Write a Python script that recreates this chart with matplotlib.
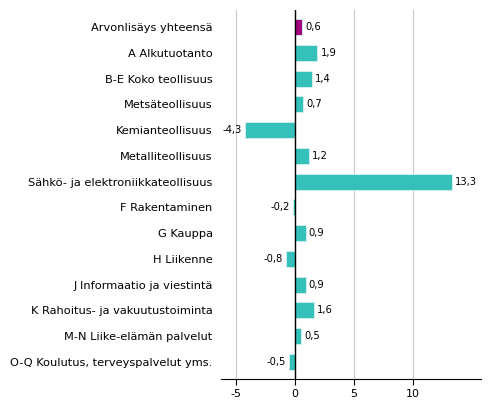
import matplotlib.pyplot as plt

categories = ["Arvonlisäys yhteensä", "A Alkutuotanto", "B-E Koko teollisuus",
              "Metsäteollisuus", "Kemianteollisuus", "Metalliteollisuus",
              "Sähkö- ja elektroniikkateollisuus", "F Rakentaminen", "G Kauppa",
              "H Liikenne", "J Informaatio ja viestintä",
              "K Rahoitus- ja vakuutustoiminta", "M-N Liike-elämän palvelut",
              "O-Q Koulutus, terveyspalvelut yms."]
values = [0.6, 1.9, 1.4, 0.7, -4.3, 1.2, 13.3, -0.2, 0.9, -0.8, 0.9, 1.6, 0.5, -0.5]
xticks = [-5, 0, 5, 10]

plt.rcParams['font.family'] = ['DejaVu Sans']
fig = plt.figure(figsize=(4.91, 4.16), dpi=100)
ax = fig.add_axes([221/491, 1-379/416, 260/491, 369/416])

ypos = list(range(len(categories)))
colors = ['#a3007f'] + ['#35c1b9'] * (len(categories) - 1)
ax.barh(ypos, values, height=0.62, color=colors, edgecolor='#d8f2f0', linewidth=0.6, zorder=3)

for y, v in zip(ypos, values):
    txt = f"{v:.1f}".replace('.', ',')
    if v >= 0:
        ax.text(v + 0.25, y, txt, va='center', ha='left', fontsize=7.2, zorder=4)
    else:
        ax.text(v - 0.25, y, txt, va='center', ha='right', fontsize=7.2, zorder=4)

ax.axvline(0, color='black', linewidth=1, zorder=4)
ax.set_xlim(-6.3, 15.8)
ax.set_ylim(len(categories) - 1 + 0.66, -0.66)
ax.set_yticks(ypos)
ax.set_yticklabels(categories, fontsize=8.2)
ax.tick_params(axis='y', length=0, pad=6)
ax.set_xticks(xticks)
ax.set_xticklabels([str(t) for t in xticks], fontsize=8)
ax.tick_params(axis='x', length=4, width=0.8, color='black')
ax.grid(axis='x', color='#c8c8c8', linewidth=0.8, zorder=0)
for s in ['top', 'right', 'left']:
    ax.spines[s].set_visible(False)
ax.spines['bottom'].set_linewidth(0.8)

fig.savefig('out.png', dpi=100)
